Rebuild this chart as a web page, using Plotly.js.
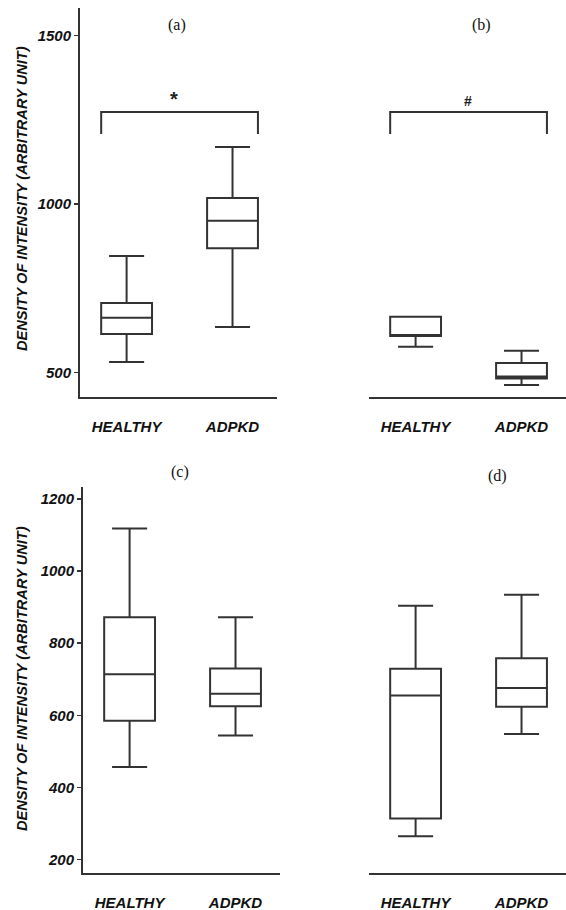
<!DOCTYPE html>
<html>
<head>
<meta charset="utf-8">
<script src="https://cdn.plot.ly/plotly-3.0.1.min.js"></script>
<style>html,body{margin:0;padding:0;background:#fff;}#chart{width:566px;height:910px;}</style>
</head>
<body>
<div id="chart"></div>
<script>
// ---- data ----
const categories = ['HEALTHY', 'ADPKD'];

const aLower  = [531, 635];
const aQ1     = [614, 869];
const aMedian = [662, 950];
const aQ3     = [706, 1018];
const aUpper  = [846, 1169];

const bLower  = [576, 463];
const bQ1     = [608, 482];
const bMedian = [608, 488];
const bQ3     = [665, 528];
const bUpper  = [665, 564];

const cLower  = [457, 544];
const cQ1     = [585, 625];
const cMedian = [714, 660];
const cQ3     = [872, 730];
const cUpper  = [1118, 872];

const dLower  = [265, 548];
const dQ1     = [314, 624];
const dMedian = [655, 676];
const dQ3     = [729, 758];
const dUpper  = [904, 934];

const panelLabels = ['(a)', '(b)', '(c)', '(d)'];
const topTicks = [500, 1000, 1500];
const bottomTicks = [200, 400, 600, 800, 1000, 1200];
const bracketTop = 1273;
const bracketLeg = 1208;
const sigMarks = ['*', '#'];
const yTitle = 'DENSITY OF INTENSITY (ARBITRARY UNIT)';

// ---- styles ----
const LINE = '#333333';
const tickFont = {family: 'Liberation Sans, Arial, sans-serif', size: 15, color: '#111', weight: 'bold', style: 'italic'};
const W = 566, H = 910;

function box(lo, q1, med, q3, hi, xa, ya) {
  return {
    type: 'box', x: categories, lowerfence: lo, q1: q1, median: med, q3: q3, upperfence: hi,
    xaxis: xa, yaxis: ya, boxpoints: false, width: 0.48, whiskerwidth: 0.69,
    line: {color: LINE, width: 2}, fillcolor: 'rgba(255,255,255,0)', hoverinfo: 'skip', showlegend: false
  };
}

const data = [
  box(aLower, aQ1, aMedian, aQ3, aUpper, 'x', 'y'),
  box(bLower, bQ1, bMedian, bQ3, bUpper, 'x2', 'y2'),
  box(cLower, cQ1, cMedian, cQ3, cUpper, 'x3', 'y3'),
  box(dLower, dQ1, dMedian, dQ3, dUpper, 'x4', 'y4')
];

function px(x) { return x / W; }
function py(y) { return 1 - y / H; }

function xaxis(d0, d1, anchor) {
  return {
    domain: [d0, d1], anchor: anchor, type: 'category', range: [-0.44, 1.42],
    showline: true, linecolor: LINE, linewidth: 2, ticks: '', showgrid: false, zeroline: false,
    tickfont: tickFont, ticklabelstandoff: 15, fixedrange: true
  };
}
function yaxis(d0, d1, anchor, range, tickvals, show) {
  return {
    domain: [d0, d1], anchor: anchor, range: range,
    showline: show, linecolor: LINE, linewidth: 2,
    ticks: show ? 'outside' : '', ticklen: 4, tickwidth: 1.5, tickcolor: LINE,
    tickvals: tickvals, ticktext: tickvals.map(String), showticklabels: show,
    showgrid: false, zeroline: false, tickfont: tickFont, fixedrange: true
  };
}

const topRange = [427, 1582];
const botRange = [163, 1233];

const layout = {
  width: W, height: H, margin: {l: 0, r: 0, t: 0, b: 0},
  paper_bgcolor: '#fff', plot_bgcolor: '#fff', showlegend: false,
  xaxis:  xaxis(px(80), px(277), 'y'),
  yaxis:  yaxis(py(397), py(8), 'x', topRange, topTicks, true),
  xaxis2: xaxis(px(369), 1, 'y2'),
  yaxis2: yaxis(py(397), py(8), 'x2', topRange, topTicks, false),
  xaxis3: xaxis(px(83), px(280), 'y3'),
  yaxis3: yaxis(py(873), py(487), 'x3', botRange, bottomTicks, true),
  xaxis4: xaxis(px(369), 1, 'y4'),
  yaxis4: yaxis(py(873), py(487), 'x4', botRange, bottomTicks, false),
  shapes: [],
  annotations: []
};

// brackets for panels (a) and (b)
[['x', 'y'], ['x2', 'y2']].forEach(function (ax) {
  layout.shapes.push({
    type: 'path', xref: ax[0], yref: ax[1],
    path: 'M -0.24,' + bracketLeg + ' L -0.24,' + bracketTop + ' L 1.24,' + bracketTop + ' L 1.24,' + bracketLeg,
    line: {color: LINE, width: 2}
  });
});
layout.annotations.push({xref: 'x', yref: 'y', x: 0.45, y: bracketTop, yanchor: 'bottom', yshift: 0, text: sigMarks[0], showarrow: false,
  font: {family: 'Liberation Sans, Arial, sans-serif', size: 20, color: '#222', weight: 'bold'}});
layout.annotations.push({xref: 'x2', yref: 'y2', x: 0.49, y: bracketTop, yanchor: 'bottom', yshift: 1, text: sigMarks[1], showarrow: false,
  font: {family: 'Liberation Sans, Arial, sans-serif', size: 14, color: '#222', weight: 'bold'}});

// panel labels
const labelPos = [[177, 25], [481, 25], [180, 472], [497, 476]];
panelLabels.forEach(function (t, i) {
  layout.annotations.push({xref: 'paper', yref: 'paper', x: px(labelPos[i][0]), y: py(labelPos[i][1]),
    text: t, showarrow: false, xanchor: 'center', yanchor: 'middle',
    font: {family: 'Liberation Serif, Times New Roman, serif', size: 16, color: '#111'}});
});

// y-axis titles
[[22, 199], [22, 679]].forEach(function (p) {
  layout.annotations.push({xref: 'paper', yref: 'paper', x: px(p[0]), y: py(p[1]),
    text: yTitle, textangle: -90, showarrow: false, xanchor: 'center', yanchor: 'middle',
    font: {family: 'Liberation Sans, Arial, sans-serif', size: 14.6, color: '#111', weight: 'bold', style: 'italic'}});
});

Plotly.newPlot('chart', data, layout, {displayModeBar: false, staticPlot: true});
</script>
</body>
</html>
